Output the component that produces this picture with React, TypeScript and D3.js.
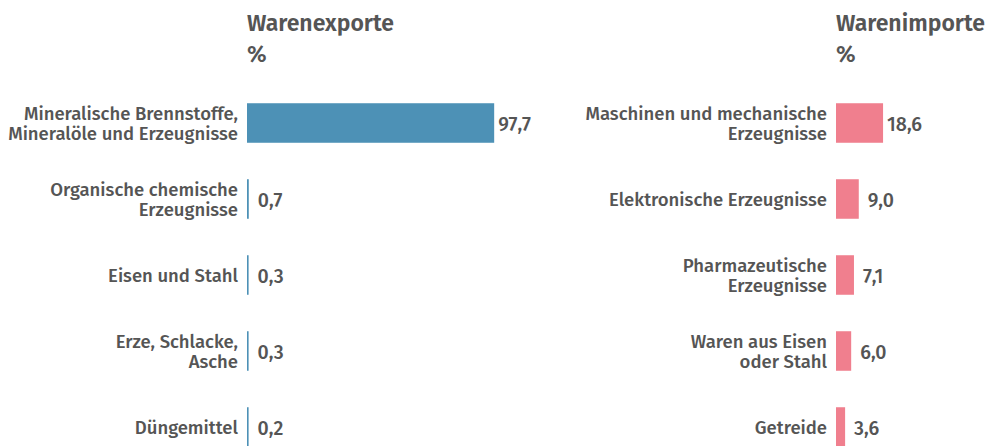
import React from "react";
import * as d3 from "d3";

const exportCategories: string[][] = [
  ["Mineralische Brennstoffe,", "Mineralöle und Erzeugnisse"],
  ["Organische chemische", "Erzeugnisse"],
  ["Eisen und Stahl"],
  ["Erze, Schlacke,", "Asche"],
  ["Düngemittel"],
];
const exportValues: number[] = [97.7, 0.7, 0.3, 0.3, 0.2];

const importCategories: string[][] = [
  ["Maschinen und mechanische", "Erzeugnisse"],
  ["Elektronische Erzeugnisse"],
  ["Pharmazeutische", "Erzeugnisse"],
  ["Waren aus Eisen", "oder Stahl"],
  ["Getreide"],
];
const importValues: number[] = [18.6, 9.0, 7.1, 6.0, 3.6];

const titles = ["Warenexporte", "Warenimporte"];
const unitLabel = "%";

const W = 987;
const H = 446;
const FONT = "'Fira Sans', 'Noto Sans', sans-serif";
const TEXT = "#555555";

const fmt = (v: number) => v.toFixed(1).replace(".", ",");

function Panel({
  x0,
  title,
  cats,
  vals,
  color,
}: {
  x0: number;
  title: string;
  cats: string[][];
  vals: number[];
  color: string;
}) {
  const x = d3.scaleLinear().domain([0, 100]).range([0, 253]);
  const y = d3
    .scaleBand<number>()
    .domain(d3.range(cats.length))
    .range([85, 465])
    .paddingInner(0.48)
    .paddingOuter(0.24);
  const lh = 20;
  const fs = 18.5;
  return (
    <g>
      <text x={x0} y={31} fontSize={23} fontWeight={600} fill={TEXT} fontFamily={FONT}>
        {title}
      </text>
      <text x={x0} y={62} fontSize={23} fontWeight={600} fill={TEXT} fontFamily={FONT}>
        {unitLabel}
      </text>
      {vals.map((v, i) => {
        const yy = y(i)!;
        const bw = y.bandwidth();
        const w = Math.max(x(v), 1.6);
        const cy = yy + bw / 2;
        const lines = cats[i];
        const startY = cy - ((lines.length - 1) * lh) / 2 + 7;
        const off = w > 30 ? 4 : 9;
        return (
          <g key={i}>
            <rect x={x0} y={yy} width={w} height={bw} fill={color} />
            <text
              textAnchor="end"
              fontSize={fs}
              fontWeight={500}
              fill={TEXT}
              fontFamily={FONT}
            >
              {lines.map((l, j) => (
                <tspan key={j} x={x0 - 9} y={startY + j * lh}>
                  {l}
                </tspan>
              ))}
            </text>
            <text
              x={x0 + w + off}
              y={cy + 7.5}
              fontSize={19.5}
              fontWeight={500}
              fill={TEXT}
              fontFamily={FONT}
            >
              {fmt(v)}
            </text>
          </g>
        );
      })}
    </g>
  );
}

export default function App() {
  return (
    <svg
      width={W}
      height={H}
      style={{ position: "absolute", left: 0, top: 0, background: "#fff" }}
    >
      <Panel x0={247} title={titles[0]} cats={exportCategories} vals={exportValues} color="#4d91b6" />
      <Panel x0={836} title={titles[1]} cats={importCategories} vals={importValues} color="#f07f8e" />
    </svg>
  );
}
